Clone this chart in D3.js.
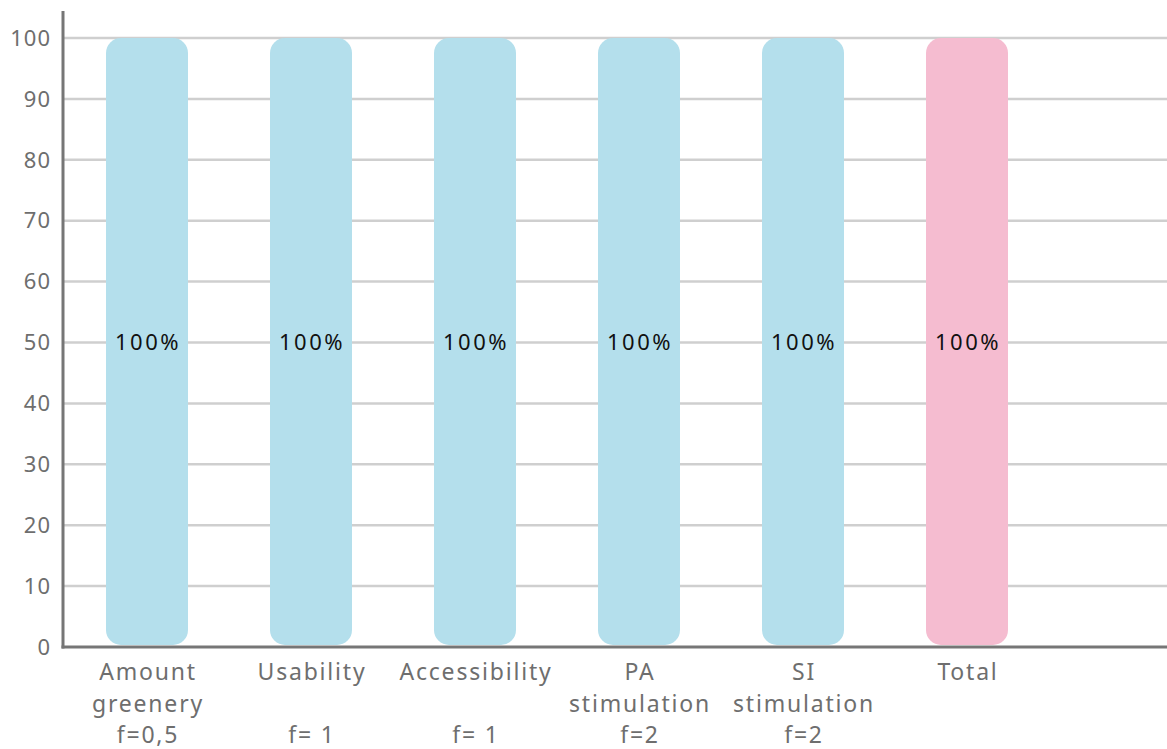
<!DOCTYPE html>
<html>
<head>
<meta charset="utf-8">
<script src="https://cdn.jsdelivr.net/npm/d3@7"></script>
<style>
  html, body { margin: 0; padding: 0; background: #fff; }
  svg { display: block; }
  text { font-family: "Noto Sans", "Open Sans", sans-serif; }
</style>
</head>
<body>
<svg id="chart" width="1167" height="749"></svg>
<script>
// Category labels (one array of lines per category)
const categories = ["Amount greenery", "Usability", "Accessibility", "PA stimulation", "SI stimulation", "Total"];
const categoryLines = [
  ["Amount", "greenery", "f=0,5"],
  ["Usability", "", "f= 1"],
  ["Accessibility", "", "f= 1"],
  ["PA", "stimulation", "f=2"],
  ["SI", "stimulation", "f=2"],
  ["Total", "", ""]
];
const values = [100, 100, 100, 100, 100, 100];
const valueLabels = ["100%", "100%", "100%", "100%", "100%", "100%"];
const yTicks = [0, 10, 20, 30, 40, 50, 60, 70, 80, 90, 100];

const plotLeft = 63, plotRight = 1167, plotTop = 11, plotBottom = 647;

const svg = d3.select("#chart");

const y = d3.scaleLinear().domain([0, 100]).range([plotBottom, 38]);
const x = d3.scaleBand()
  .domain(categories)
  .range([65, 65 + 6 * 164])
  .paddingInner(0.5)
  .paddingOuter(0.25);

// Horizontal gridlines
svg.append("g")
  .selectAll("line")
  .data(yTicks.filter(d => d > 0))
  .join("line")
  .attr("x1", plotLeft).attr("x2", plotRight)
  .attr("y1", d => y(d)).attr("y2", d => y(d))
  .attr("stroke", "#cfcfcf")
  .attr("stroke-width", 2.5);

// Y tick labels
svg.append("g")
  .selectAll("text")
  .data(yTicks)
  .join("text")
  .attr("x", 51)
  .attr("y", d => y(d))
  .attr("dy", "0.35em")
  .attr("text-anchor", "end")
  .attr("font-size", 22)
  .attr("letter-spacing", 1)
  .attr("fill", "#6e6e6e")
  .text(d => d);

// Bars with rounded corners
const barColor = (d, i) => categories[i] === "Total" ? "#f5bcd0" : "#b4dfec";
svg.append("g")
  .selectAll("rect")
  .data(values)
  .join("rect")
  .attr("x", (d, i) => x(categories[i]))
  .attr("width", x.bandwidth())
  .attr("y", d => y(d))
  .attr("height", d => y(0) - y(d) - 2)
  .attr("rx", 15)
  .attr("fill", barColor);

// Value labels in the middle of each bar
svg.append("g")
  .selectAll("text")
  .data(values)
  .join("text")
  .attr("x", (d, i) => x(categories[i]) + x.bandwidth() / 2 + 1)
  .attr("y", d => y(d / 2))
  .attr("dy", "0.35em")
  .attr("text-anchor", "middle")
  .attr("font-size", 22)
  .attr("letter-spacing", 2.5)
  .attr("fill", "#111")
  .text((d, i) => valueLabels[i]);

// Axes
svg.append("line")
  .attr("x1", plotLeft).attr("x2", plotLeft)
  .attr("y1", plotTop).attr("y2", plotBottom + 1.5)
  .attr("stroke", "#767676").attr("stroke-width", 3);
svg.append("line")
  .attr("x1", plotLeft - 1.5).attr("x2", plotRight)
  .attr("y1", plotBottom).attr("y2", plotBottom)
  .attr("stroke", "#767676").attr("stroke-width", 3);

// Category labels
const labels = svg.append("g")
  .selectAll("text")
  .data(categories)
  .join("text")
  .attr("text-anchor", "middle")
  .attr("font-size", 23)
  .attr("letter-spacing", 1.8)
  .attr("fill", "#6e6e6e");
labels.each(function (c, i) {
  const t = d3.select(this);
  categoryLines[i].forEach((line, j) => {
    t.append("tspan")
      .attr("x", x(c) + x.bandwidth() / 2 + 1)
      .attr("y", 680 + j * 31.5)
      .text(line);
  });
});
</script>
</body>
</html>
